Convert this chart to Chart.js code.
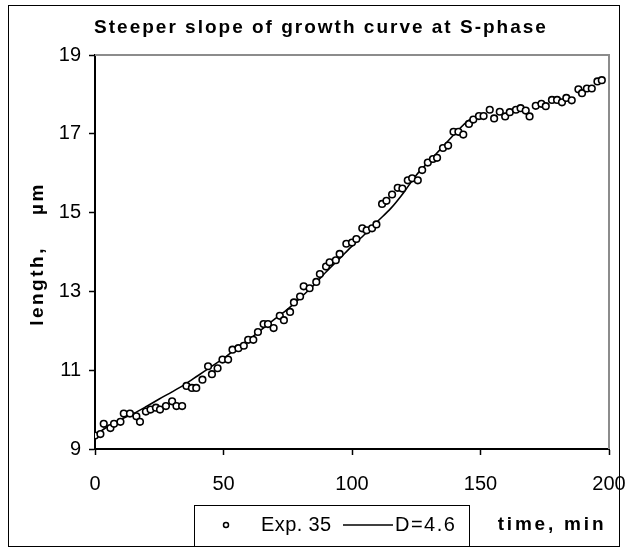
<!DOCTYPE html>
<html>
<head>
<meta charset="utf-8">
<script src="https://cdn.jsdelivr.net/npm/chart.js@4/dist/chart.umd.min.js"></script>
<style>
  html, body { margin: 0; padding: 0; background: #ffffff; }
  #c { display: block; }
</style>
</head>
<body>
<canvas id="c" width="626" height="548"></canvas>
<script>
// ---- data ----
const titleText = "Steeper slope of growth curve at S-phase";
const xTitle = "time, min";
const yTitle = "length,    \u00b5m";
const expLabel = "Exp. 35";
const fitLabel = "D=4.6";

const expX = [0, 2.1, 3.4, 6, 7.4, 9.9, 11.2, 13.6, 16.1, 17.5, 19.8, 21.6, 23.7, 25.3, 27.6, 30, 31.7, 33.9,
  35.6, 37.7, 39.4, 41.8, 44, 45.5, 47.7, 49.6, 51.8, 53.5, 55.8, 57.9, 59.6, 61.6, 63.4, 65.6, 67.3, 69.5,
  71.9, 73.5, 75.9, 77.4, 79.8, 81.2, 83.5, 86.1, 87.5, 89.9, 91.3, 93.7, 95.2, 97.8, 100, 101.7, 104, 105.7,
  107.8, 109.5, 111.7, 113.4, 115.6, 117.8, 119.6, 121.7, 123.4, 125.6, 127.3, 129.5, 131.5, 133.1, 135.4,
  137.4, 139.5, 141.4, 143.3, 145.5, 147.2, 149.4, 151.2, 153.6, 155.3, 157.5, 159.6, 161.4, 163.8, 165.6,
  167.6, 169.1, 171.5, 173.7, 175.4, 177.8, 179.8, 181.7, 183.4, 185.5, 188.1, 189.5, 191.4, 193.3, 195.5, 197.2];
const expY = [9.34, 9.38, 9.64, 9.53, 9.64, 9.69, 9.9, 9.9, 9.83, 9.69, 9.95, 10.0, 10.05, 10.0, 10.09, 10.21, 10.09, 10.09,
  10.6, 10.55, 10.55, 10.76, 11.1, 10.9, 11.05, 11.27, 11.27, 11.52, 11.56, 11.62, 11.77, 11.77, 11.97, 12.17, 12.17, 12.07,
  12.38, 12.27, 12.48, 12.72, 12.87, 13.13, 13.08, 13.24, 13.44, 13.63, 13.74, 13.79, 13.95, 14.21, 14.24, 14.33, 14.6, 14.55,
  14.6, 14.7, 15.22, 15.3, 15.46, 15.63, 15.61, 15.82, 15.87, 15.82, 16.08, 16.27, 16.36, 16.39, 16.64,
  16.7, 17.05, 17.05, 16.98, 17.25, 17.36, 17.45, 17.45, 17.61, 17.39, 17.56, 17.44, 17.55, 17.61, 17.65,
  17.59, 17.44, 17.71, 17.76, 17.7, 17.86, 17.86, 17.8, 17.91, 17.85, 18.13, 18.03, 18.15, 18.15, 18.33, 18.36];

const fitX = [0, 5, 10, 15, 20, 25, 30, 35, 40, 45, 50, 55, 60, 65, 70, 75, 80, 85, 90, 95, 100, 105, 110, 115, 120, 125, 130, 135, 140, 145, 150];
const fitY = [9.35, 9.57, 9.75, 9.9, 10.08, 10.27, 10.45, 10.64, 10.86, 11.08, 11.3, 11.55, 11.78, 12.04, 12.3, 12.55, 12.84, 13.15, 13.5, 13.82, 14.15, 14.45, 14.78, 15.1, 15.5, 15.95, 16.3, 16.65, 17.0, 17.32, 17.5];

const xTicks = [0, 50, 100, 150, 200];
const yTicks = [9, 11, 13, 15, 17, 19];

const FONT = "'Liberation Sans', Arial, sans-serif";

const decor = {
  id: 'decor',
  beforeDraw(chart) {
    const ctx = chart.ctx;
    ctx.save();
    ctx.fillStyle = '#ffffff';
    ctx.fillRect(0, 0, chart.width, chart.height);
    ctx.restore();
  },
  beforeDatasetsDraw(chart) {
    const ctx = chart.ctx, a = chart.chartArea;
    ctx.save();
    ctx.strokeStyle = '#8c8c8c';
    ctx.lineWidth = 2;
    ctx.beginPath();
    ctx.moveTo(a.left, a.top);
    ctx.lineTo(a.right, a.top);
    ctx.lineTo(a.right, a.bottom);
    ctx.stroke();
    ctx.restore();
  },
  afterDraw(chart) {
    const ctx = chart.ctx;
    ctx.save();
    // outer frame
    ctx.strokeStyle = '#000';
    ctx.lineWidth = 1;
    ctx.strokeRect(8.5, 5.5, 611, 541);
    // title
    ctx.fillStyle = '#000';
    ctx.font = "bold 19px " + FONT;
    ctx.letterSpacing = '2px';
    ctx.textAlign = 'center';
    ctx.textBaseline = 'middle';
    ctx.fillText(titleText, 321, 28);
    // y title
    ctx.save();
    ctx.letterSpacing = '2.5px';
    ctx.translate(38, 254);
    ctx.rotate(-Math.PI / 2);
    ctx.fillText(yTitle, 0, 0);
    ctx.restore();
    // x title
    ctx.letterSpacing = '2.8px';
    ctx.fillText(xTitle, 552, 525);
    // legend box
    ctx.letterSpacing = '0px';
    ctx.fillStyle = '#fff';
    ctx.fillRect(194, 505, 275, 41);
    ctx.strokeStyle = '#000';
    ctx.lineWidth = 1;
    ctx.strokeRect(194.5, 505.5, 275, 41);
    ctx.beginPath();
    ctx.arc(226, 525, 2.5, 0, Math.PI * 2);
    ctx.lineWidth = 1.5;
    ctx.stroke();
    ctx.beginPath();
    ctx.moveTo(343, 525);
    ctx.lineTo(393, 525);
    ctx.lineWidth = 1.5;
    ctx.stroke();
    ctx.fillStyle = '#000';
    ctx.font = "20px " + FONT;
    ctx.textAlign = 'left';
    ctx.letterSpacing = '0.4px';
    ctx.fillText(expLabel, 261, 525);
    ctx.letterSpacing = '1.5px';
    ctx.fillText(fitLabel, 395, 525);
    ctx.restore();
  }
};

new Chart(document.getElementById('c'), {
  type: 'scatter',
  data: {
    datasets: [
      {
        label: expLabel,
        data: expX.map((x, i) => ({ x: x, y: expY[i] })),
        showLine: false,
        pointRadius: 3.3,
        pointBorderWidth: 1.6,
        pointBorderColor: '#000',
        pointBackgroundColor: '#fff',
        order: 0
      },
      {
        label: fitLabel,
        data: fitX.map((x, i) => ({ x: x, y: fitY[i] })),
        showLine: true,
        borderColor: '#000',
        borderWidth: 1.6,
        pointRadius: 0,
        tension: 0.3,
        fill: false,
        order: 1
      }
    ]
  },
  options: {
    responsive: false,
    animation: false,
    devicePixelRatio: 1,
    layout: { padding: { left: 0, top: 55, right: 17, bottom: 0 } },
    plugins: { legend: { display: false }, title: { display: false }, tooltip: { enabled: false } },
    scales: {
      x: {
        type: 'linear', min: 0, max: 200,
        afterFit(s) { s.height = 99; s.paddingLeft = 0; s.paddingRight = 0; },
        afterBuildTicks(s) { s.ticks = xTicks.map(v => ({ value: v })); },
        grid: { display: true, drawOnChartArea: false, drawTicks: true, tickLength: 6, color: '#000', tickWidth: 1.5 },
        border: { display: true, color: '#000', width: 2 },
        ticks: { color: '#000', font: { family: FONT, size: 20 }, padding: 17, maxRotation: 0 }
      },
      y: {
        type: 'linear', min: 9, max: 19,
        afterFit(s) { s.width = 95; s.paddingTop = 0; s.paddingBottom = 0; },
        afterBuildTicks(s) { s.ticks = yTicks.map(v => ({ value: v })); },
        grid: { display: true, drawOnChartArea: false, drawTicks: true, tickLength: 6, color: '#000', tickWidth: 1.5 },
        border: { display: true, color: '#000', width: 2 },
        ticks: { color: '#000', font: { family: FONT, size: 20 }, padding: 8 }
      }
    }
  },
  plugins: [decor]
});
</script>
</body>
</html>
